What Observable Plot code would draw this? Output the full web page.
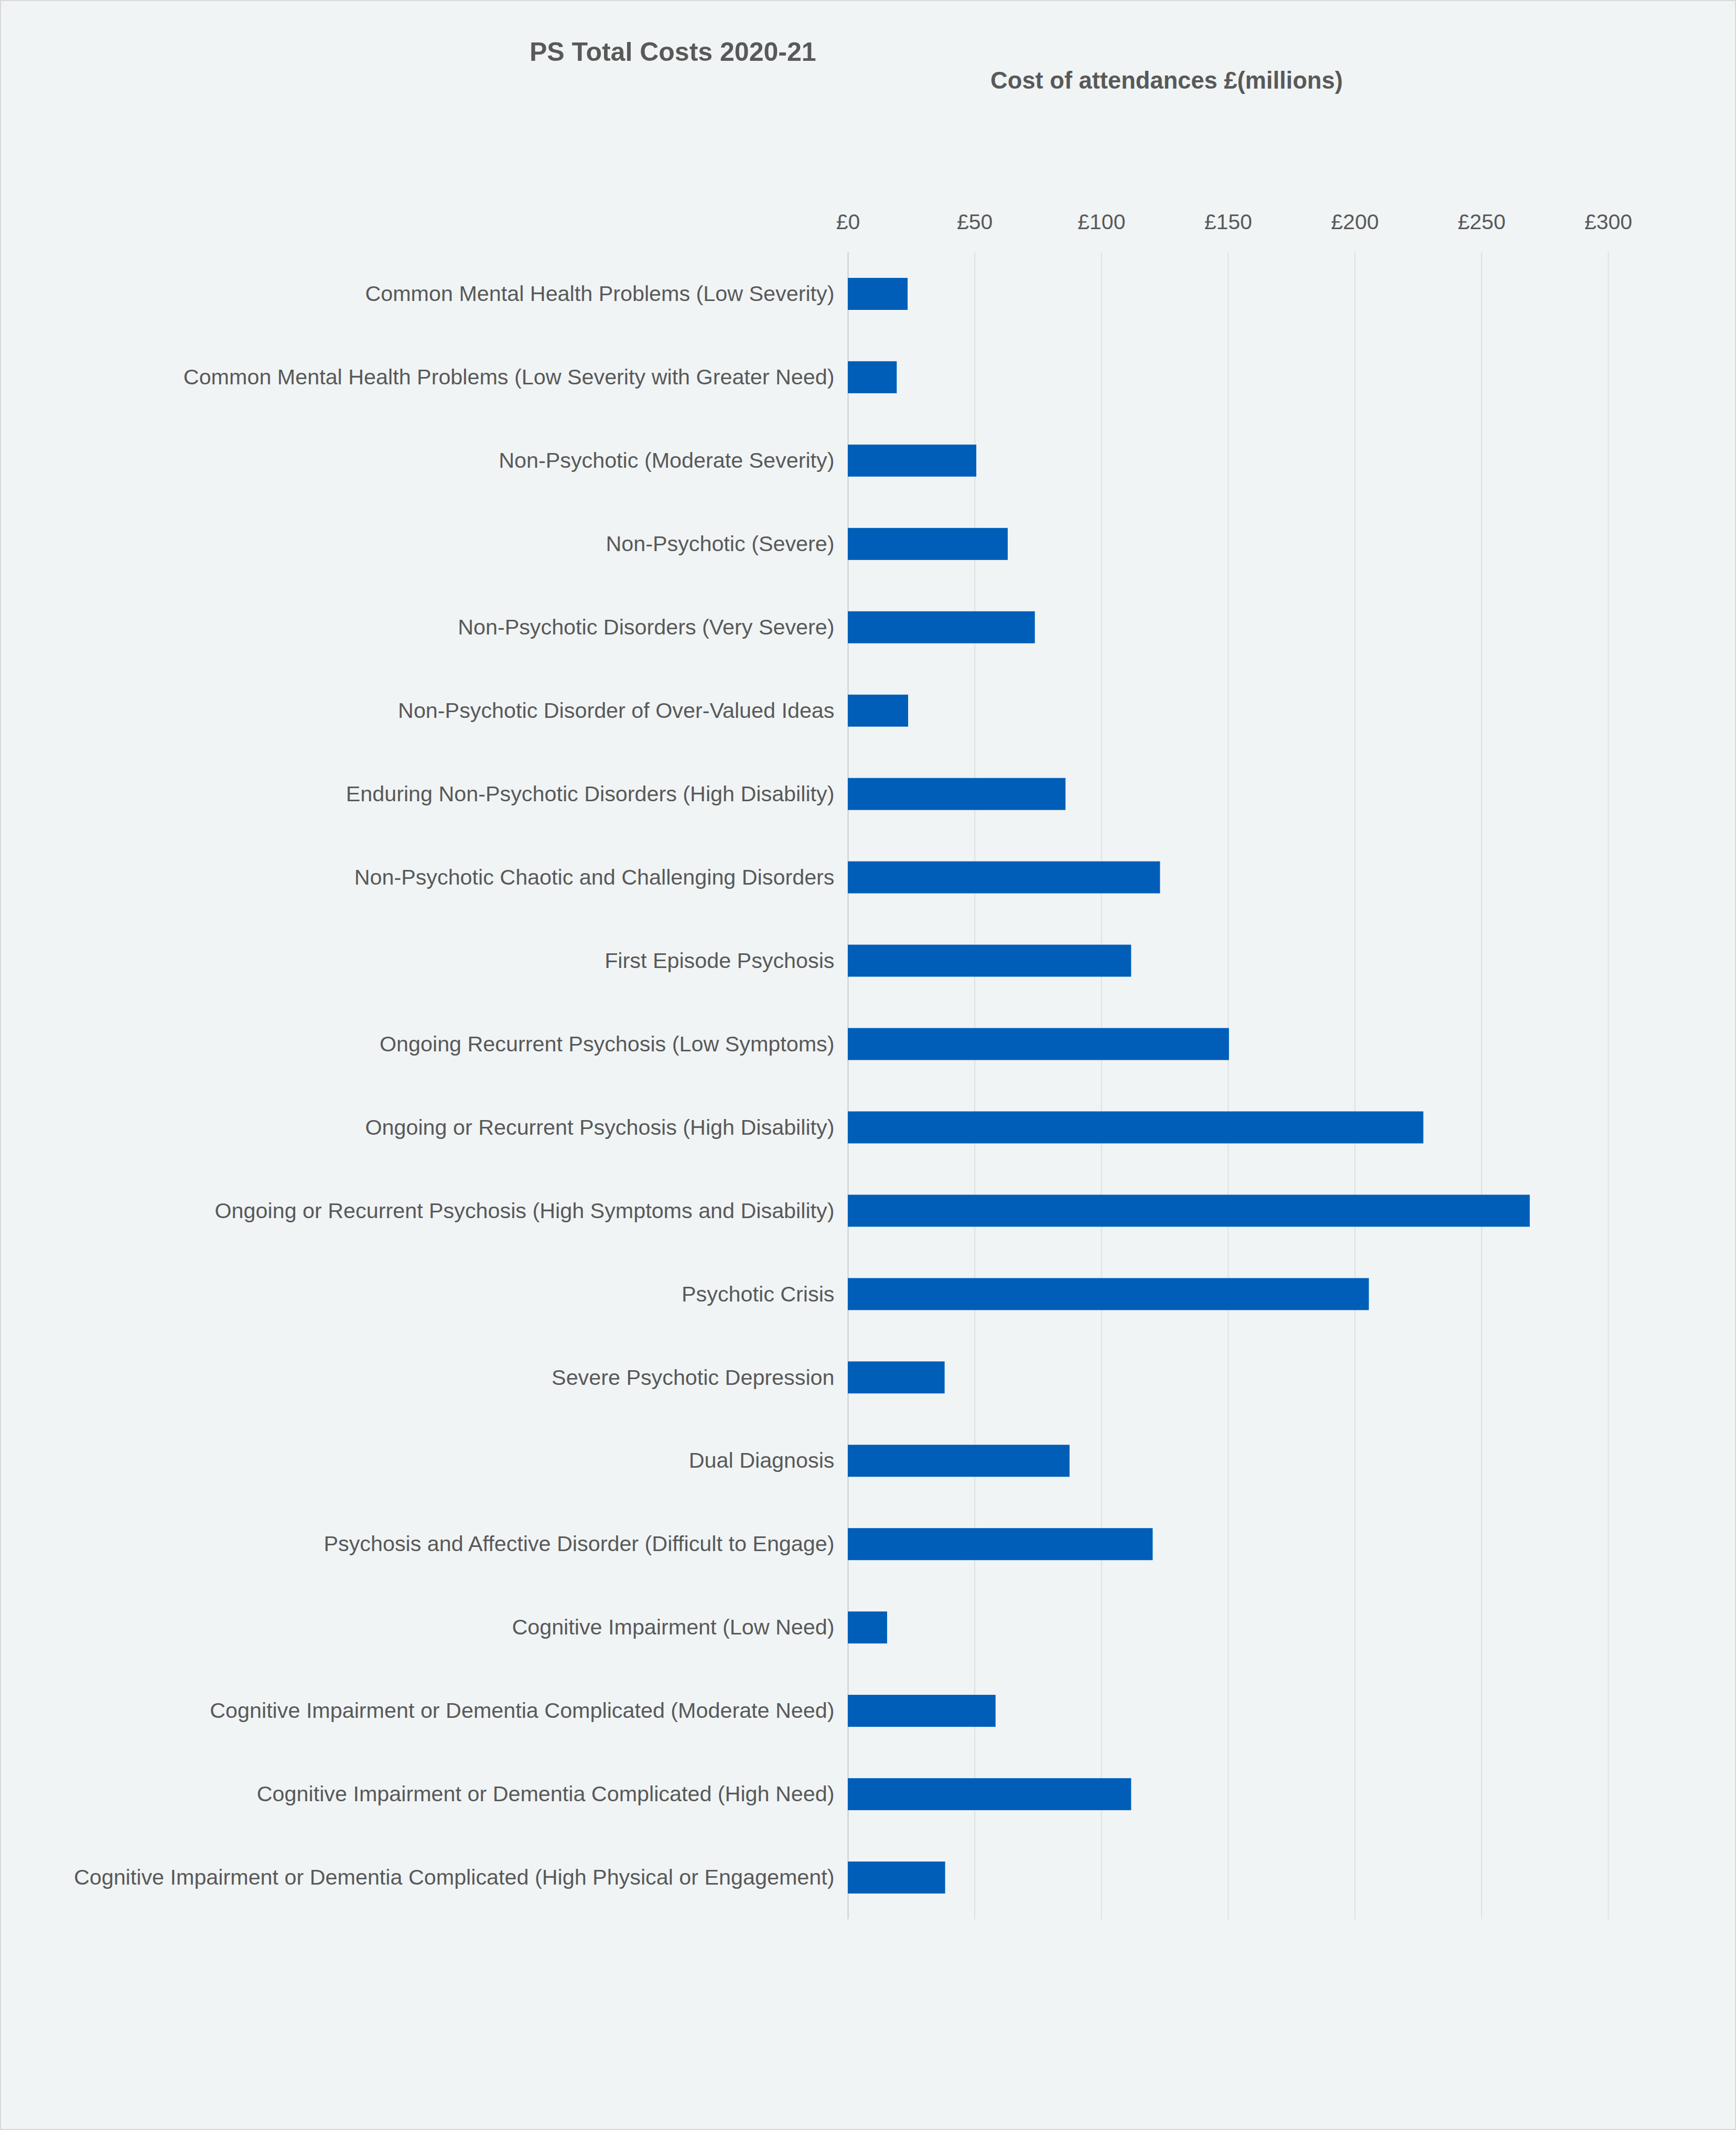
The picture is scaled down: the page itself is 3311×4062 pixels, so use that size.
<!DOCTYPE html>
<html>
<head>
<meta charset="utf-8">
<script src="https://cdn.jsdelivr.net/npm/d3@7"></script>
<script src="https://cdn.jsdelivr.net/npm/@observablehq/plot@0.6"></script>
<style>
  html, body { margin: 0; padding: 0; background: #f0f4f5; }
  #wrap { position: relative; width: 3311px; height: 4062px; background: #f0f4f5; box-shadow: inset 0 0 0 2px #d9d9d9; overflow: hidden; }
  #wrap svg { position: absolute; left: 0; top: 0; }
  .ttl { position: absolute; font-family: "Liberation Sans", Arial, sans-serif; font-weight: bold; color: #595959; line-height: 1; white-space: nowrap; }
  #title { left: 1010px; top: 74px; font-size: 50px; }
  #subtitle { left: 1889px; top: 131px; font-size: 45.3px; }
</style>
</head>
<body>
<div id="wrap">
  <div id="title" class="ttl">PS Total Costs 2020-21</div>
  <div id="subtitle" class="ttl">Cost of attendances £(millions)</div>
</div>
<script>
const categories = [
  "Common Mental Health Problems (Low Severity)",
  "Common Mental Health Problems (Low Severity with Greater Need)",
  "Non-Psychotic (Moderate Severity)",
  "Non-Psychotic (Severe)",
  "Non-Psychotic Disorders (Very Severe)",
  "Non-Psychotic Disorder of Over-Valued Ideas",
  "Enduring Non-Psychotic Disorders (High Disability)",
  "Non-Psychotic Chaotic and Challenging Disorders",
  "First Episode Psychosis",
  "Ongoing Recurrent Psychosis (Low Symptoms)",
  "Ongoing or Recurrent Psychosis (High Disability)",
  "Ongoing or Recurrent Psychosis (High Symptoms and Disability)",
  "Psychotic Crisis",
  "Severe Psychotic Depression",
  "Dual Diagnosis",
  "Psychosis and Affective Disorder (Difficult to Engage)",
  "Cognitive Impairment (Low Need)",
  "Cognitive Impairment or Dementia Complicated (Moderate Need)",
  "Cognitive Impairment or Dementia Complicated (High Need)",
  "Cognitive Impairment or Dementia Complicated (High Physical or Engagement)"
];
const costs = [23.6, 19.3, 50.7, 63.1, 73.8, 23.8, 85.9, 123.2, 111.8, 150.4,
               227.1, 269.1, 205.6, 38.2, 87.5, 120.3, 15.5, 58.3, 111.8, 38.4];
const tickValues = [0, 50, 100, 150, 200, 250, 300];

const data = categories.map((c, i) => ({category: c, value: costs[i]}));

const chart = Plot.plot({
  width: 3311,
  height: 4062,
  marginLeft: 1617,
  marginRight: 244,
  marginTop: 481,
  marginBottom: 402,
  style: {background: "transparent", fontFamily: "'Liberation Sans', Arial, sans-serif", fontSize: "41px", color: "#595959", overflow: "visible"},
  x: {domain: [0, 300], label: null},
  y: {domain: categories, paddingInner: 0.616, paddingOuter: 0.308, round: false, label: null},
  marks: [
    Plot.gridX(tickValues, {stroke: "#dde1e3", strokeOpacity: 1, strokeWidth: 2}),
    Plot.ruleX([0], {stroke: "#cdd1d4", strokeWidth: 2}),
    Plot.barX(data, {x: "value", y: "category", fill: "#005EB8"}),
    Plot.axisX(tickValues, {anchor: "top", tickSize: 0, tickPadding: 45, tickFormat: d => "£" + d, fontSize: 41, label: null}),
    Plot.axisY({anchor: "left", tickSize: 0, tickPadding: 26, fontSize: 41.3, label: null})
  ]
});
document.getElementById("wrap").appendChild(chart);
</script>
</body>
</html>
